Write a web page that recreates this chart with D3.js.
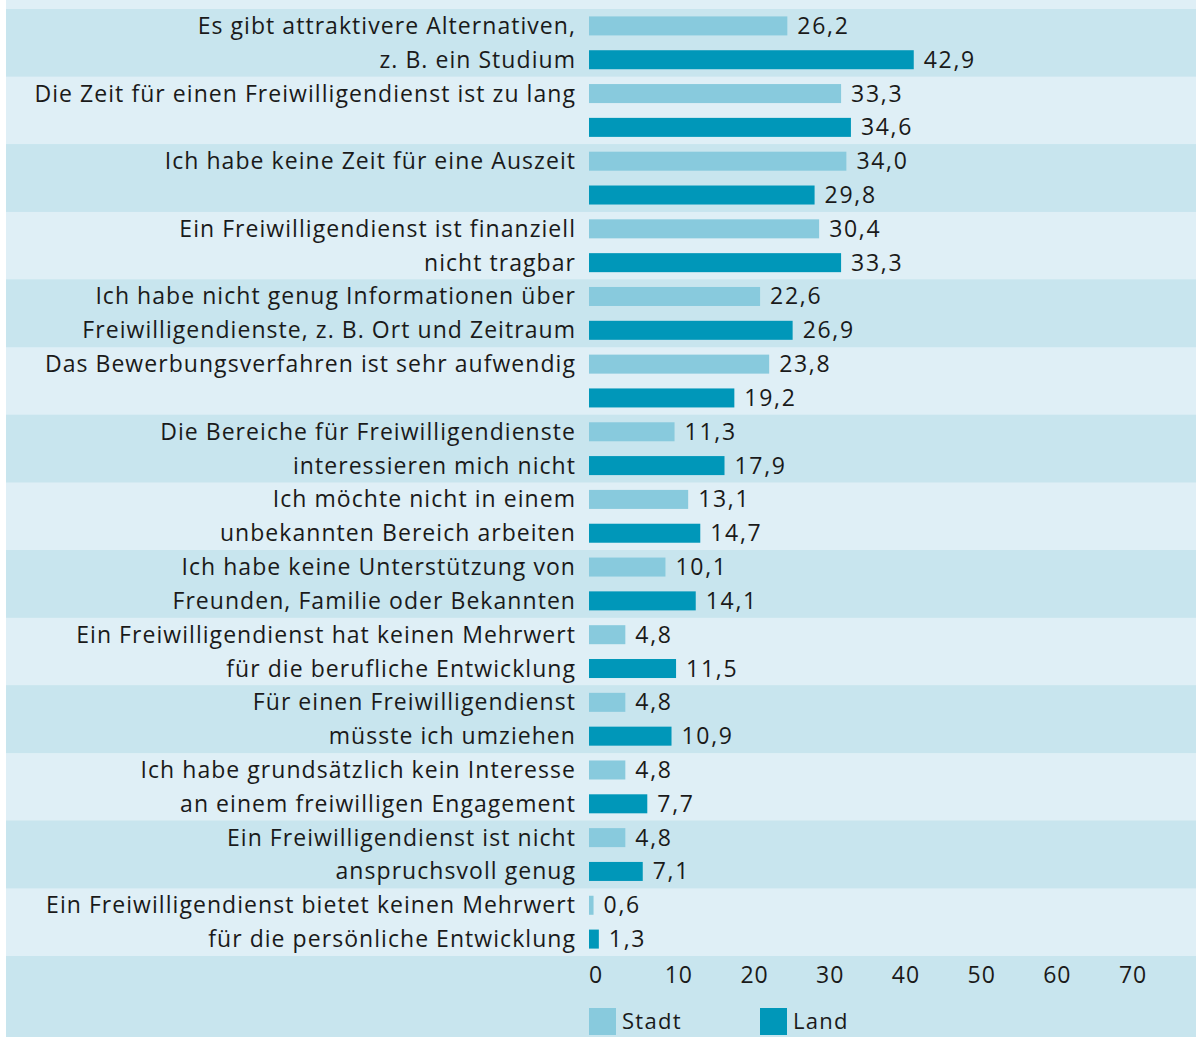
<!DOCTYPE html>
<html>
<head>
<meta charset="utf-8">
<script src="https://cdn.jsdelivr.net/npm/d3@7"></script>
<style>
  body { margin: 0; background: #fff; }
  svg text { font-family: "Open Sans", "Noto Sans", sans-serif; fill: #1a1a1a; }
</style>
</head>
<body>
<div id="chart"></div>
<script>
// labels are two lines each, second line may be empty
var labelLine1 = [
  "Es gibt attraktivere Alternativen,",
  "Die Zeit für einen Freiwilligendienst ist zu lang",
  "Ich habe keine Zeit für eine Auszeit",
  "Ein Freiwilligendienst ist finanziell",
  "Ich habe nicht genug Informationen über",
  "Das Bewerbungsverfahren ist sehr aufwendig",
  "Die Bereiche für Freiwilligendienste",
  "Ich möchte nicht in einem",
  "Ich habe keine Unterstützung von",
  "Ein Freiwilligendienst hat keinen Mehrwert",
  "Für einen Freiwilligendienst",
  "Ich habe grundsätzlich kein Interesse",
  "Ein Freiwilligendienst ist nicht",
  "Ein Freiwilligendienst bietet keinen Mehrwert"
];
var labelLine2 = [
  "z. B. ein Studium",
  "",
  "",
  "nicht tragbar",
  "Freiwilligendienste, z. B. Ort und Zeitraum",
  "",
  "interessieren mich nicht",
  "unbekannten Bereich arbeiten",
  "Freunden, Familie oder Bekannten",
  "für die berufliche Entwicklung",
  "müsste ich umziehen",
  "an einem freiwilligen Engagement",
  "anspruchsvoll genug",
  "für die persönliche Entwicklung"
];
var stadt = [26.2, 33.3, 34.0, 30.4, 22.6, 23.8, 11.3, 13.1, 10.1, 4.8, 4.8, 4.8, 4.8, 0.6];
var land  = [42.9, 34.6, 29.8, 33.3, 26.9, 19.2, 17.9, 14.7, 14.1, 11.5, 10.9, 7.7, 7.1, 1.3];
var seriesNames = ["Stadt", "Land"];
var ticks = [0, 10, 20, 30, 40, 50, 60, 70];

var W = 1197, H = 1037;
var colors = {Stadt: "#88cadd", Land: "#0097b9"};
var bandDark = "#c8e5ee", bandLight = "#dfeff6";

var svg = d3.select("#chart").append("svg")
    .attr("width", W).attr("height", H);

var idx = d3.range(labelLine1.length);

var x = d3.scaleLinear().domain([0, 70]).range([589, 589 + 7.57 * 70]);
var y = d3.scaleBand().domain(idx).range([9, 956]);
var ySub = d3.scaleBand().domain(seriesNames).range([0, y.bandwidth()])
    .paddingInner(0.438).paddingOuter(0.219);

// panel background
svg.append("rect").attr("x", 6).attr("y", 0).attr("width", 1190).attr("height", H)
    .attr("fill", bandDark);
svg.append("rect").attr("x", 6).attr("y", 0).attr("width", 1190).attr("height", 9)
    .attr("fill", bandLight);

var rows = svg.selectAll("g.row").data(idx).enter().append("g")
    .attr("class", "row")
    .attr("transform", function(i) { return "translate(0," + y(i) + ")"; });

rows.append("rect")
    .attr("x", 6).attr("width", 1190)
    .attr("height", y.bandwidth())
    .attr("fill", function(i) { return i % 2 === 0 ? bandDark : bandLight; });

seriesNames.forEach(function(s, si) {
  var vals = si === 0 ? stadt : land;
  var lines = si === 0 ? labelLine1 : labelLine2;
  var cy = ySub(s) + ySub.bandwidth() / 2;

  rows.append("rect")
      .attr("x", x(0))
      .attr("y", ySub(s))
      .attr("width", function(i) { return x(vals[i]) - x(0); })
      .attr("height", ySub.bandwidth())
      .attr("fill", colors[s]);

  rows.append("text")
      .attr("x", function(i) { return x(vals[i]) + 10; })
      .attr("y", cy + 8)
      .style("font-size", "23px")
      .style("letter-spacing", "1.7px")
      .text(function(i) { return vals[i].toFixed(1).replace(".", ","); });

  rows.append("text")
      .attr("x", 576)
      .attr("y", cy + 8)
      .attr("text-anchor", "end")
      .style("font-size", "23px")
      .style("letter-spacing", "1.05px")
      .text(function(i) { return lines[i]; });
});

// x axis tick labels
svg.append("g").selectAll("text").data(ticks).enter().append("text")
    .attr("x", function(d) { return x(d); })
    .attr("y", 983)
    .style("font-size", "23px")
    .style("letter-spacing", "1px")
    .text(function(d) { return d; });

// legend
var legX = [589, 760];
var leg = svg.append("g").selectAll("g").data(seriesNames).enter().append("g")
    .attr("transform", function(d, i) { return "translate(" + legX[i] + ",1008)"; });
leg.append("rect").attr("width", 27).attr("height", 27)
    .attr("fill", function(d) { return colors[d]; });
leg.append("text").attr("x", 33).attr("y", 21)
    .style("font-size", "22px")
    .style("letter-spacing", "1.3px")
    .text(function(d) { return d; });
</script>
</body>
</html>
